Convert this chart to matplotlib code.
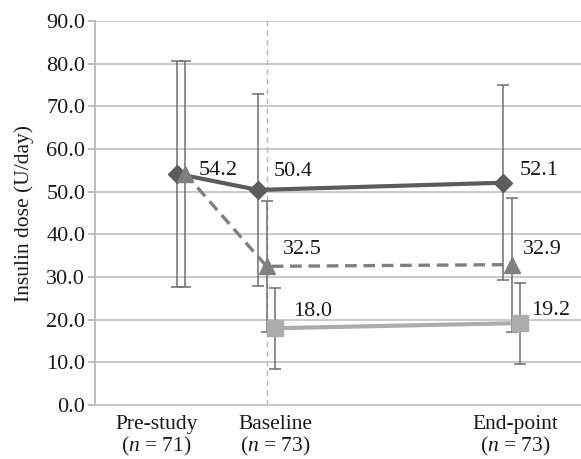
import matplotlib
matplotlib.use('Agg')
from matplotlib import pyplot as plt
import numpy as np

plt.rcParams['font.family'] = ['Liberation Serif', 'DejaVu Serif']
plt.rcParams['mathtext.fontset'] = 'custom'
plt.rcParams['mathtext.rm'] = 'Liberation Serif'
plt.rcParams['mathtext.it'] = 'Liberation Serif:italic'

# visits (x position on a time-like axis) and their labels
visit_labels = ['Pre-study\n($n$ = 71)', 'Baseline\n($n$ = 73)', 'End-point\n($n$ = 73)']
visit_x = [18.6, 35.3, 85.8]
label_x = [12.6, 37.1, 86.4]

# three insulin series: mean dose and SD (U/day)
dark_dose = [54.2, 50.4, 52.1]
dark_sd = [26.5, 22.6, 22.9]
mid_dose = [54.2, 32.5, 32.9]
mid_sd = [26.5, 15.4, 15.7]
light_dose = [18.0, 19.2]   # baseline and end-point only
light_sd = [9.5, 9.5]

yticks = np.arange(0, 91, 10)

fig = plt.figure(figsize=(5.81, 4.59), dpi=100)
ax = fig.add_axes([95/581, 1-405/459, 486/581, 384/459])

ax.set_xlim(0, 100)
ax.set_ylim(0, 90)
ax.set_yticks(yticks)
ax.set_yticklabels(['%.1f' % v for v in yticks])
ax.yaxis.grid(True, color='#c6c6c6', lw=1.3)
ax.set_axisbelow(True)
for s in ['top', 'right']:
    ax.spines[s].set_visible(False)
ax.spines['left'].set_color('#b8b8b8')
ax.spines['bottom'].set_color('#c6c6c6')
ax.spines['left'].set_linewidth(1.3)
ax.spines['bottom'].set_linewidth(1.3)
ax.tick_params(axis='y', length=5, color='#b8b8b8', width=1.3, labelsize=16, pad=2,
               labelcolor='#1a1a1a')
ax.set_xticks(label_x)
ax.set_xticklabels(visit_labels, fontsize=15.5, linespacing=1.05, color='#1a1a1a')
ax.tick_params(axis='x', length=0, pad=7)
ax.set_ylabel('Insulin dose (U/day)', fontsize=15.5, labelpad=9, color='#1a1a1a')

ax.axvline(visit_x[1], color='#b8b8b8', lw=1.0, ls=(0, (4, 3)), zorder=1)

off = 1.75
x_dark = np.array(visit_x) - off
x_mid = np.array(visit_x)
x_light = np.array(visit_x[1:]) + off

ax.errorbar(x_dark, dark_dose, yerr=dark_sd, color='#5c5c5c', lw=3, marker='D',
            ms=9, ecolor='#6e6e6e', elinewidth=1.1, capsize=4, capthick=1.1, zorder=3)
ax.errorbar(x_mid, mid_dose, yerr=mid_sd, color='#808080', lw=2.4, ls=(0, (3.5, 2)),
            marker='^', ms=11, ecolor='#6e6e6e', elinewidth=1.1, capsize=4,
            capthick=1.1, zorder=4)
ax.errorbar(x_light, light_dose, yerr=light_sd, color='#acacac', lw=3, marker='s',
            ms=11, ecolor='#6e6e6e', elinewidth=1.1, capsize=4, capthick=1.1, zorder=5)

# value labels, offsets in points
dark_off = [(15.5, 2), (11.5, 13.5), (11.8, 8.5)]
mid_off = [None, (11.5, 12), (8, 11)]
light_off = [(13, 12), (8, 9)]
for x, v, o in zip(x_dark, dark_dose, dark_off):
    ax.annotate('%.1f' % v, (x, v), xytext=o, textcoords='offset points',
                ha='left', va='center', fontsize=16, zorder=6, color='#1a1a1a')
for x, v, o in zip(x_mid, mid_dose, mid_off):
    if o is None:
        continue
    ax.annotate('%.1f' % v, (x, v), xytext=o, textcoords='offset points',
                ha='left', va='center', fontsize=16, zorder=6, color='#1a1a1a')
for x, v, o in zip(x_light, light_dose, light_off):
    ax.annotate('%.1f' % v, (x, v), xytext=o, textcoords='offset points',
                ha='left', va='center', fontsize=16, zorder=6, color='#1a1a1a')

fig.savefig('out.png', dpi=100)
